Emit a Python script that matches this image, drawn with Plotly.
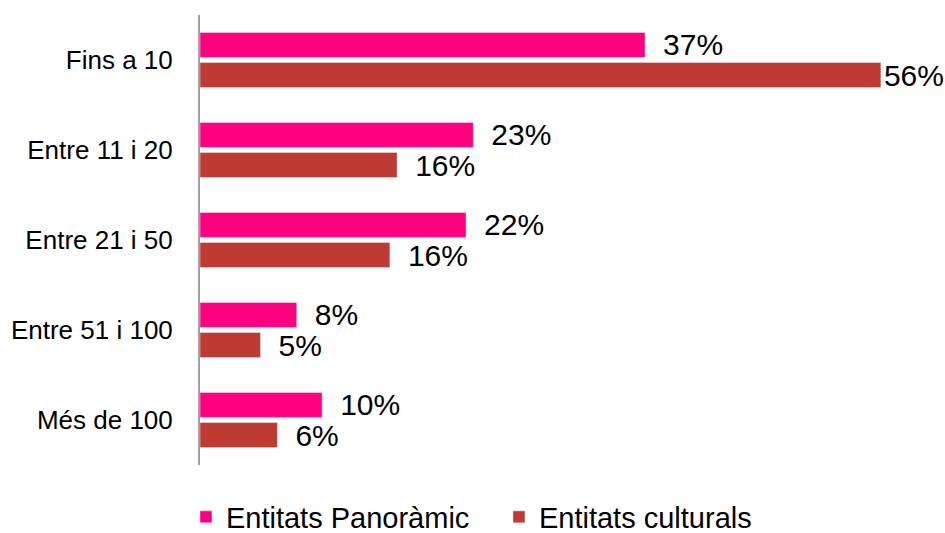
import plotly.graph_objects as go

categories = ['Fins a 10', 'Entre 11 i 20', 'Entre 21 i 50', 'Entre 51 i 100', 'Més de 100']
panoramic = [36.8, 22.6, 22.0, 8.0, 10.1]
culturals = [56.3, 16.3, 15.7, 5.0, 6.4]

def labels(vals, top):
    # label at the far end sits right on the bar, others get a gap
    return [('' if v == top else '\u2002') + f'{v:.0f}%' for v in vals]

top_val = max(panoramic + culturals)

fig = go.Figure()
fig.add_trace(go.Bar(y=categories, x=panoramic, orientation='h', name='Entitats Panoràmic',
                     marker=dict(color='#FF0080'),
                     text=labels(panoramic, top_val), textposition='outside', cliponaxis=False))
fig.add_trace(go.Bar(y=categories, x=culturals, orientation='h', name='Entitats culturals',
                     marker=dict(color='#BF3A33'),
                     text=labels(culturals, top_val), textposition='outside', cliponaxis=False))

fig.update_traces(textfont=dict(size=30, color='black'), constraintext='none')

fig.update_layout(
    width=945, height=533,
    margin=dict(l=200, r=0, t=15, b=68, autoexpand=False),
    barmode='group', bargap=0.33, bargroupgap=0.17,
    plot_bgcolor='white', paper_bgcolor='white',
    font=dict(family='Liberation Sans, Arial', color='black'),
    showlegend=True,
    legend=dict(orientation='h', xref='container', x=0.528, xanchor='center',
                yref='container', y=0.03, yanchor='middle', font=dict(size=29),
                entrywidth=268),
)
fig.update_xaxes(range=[0, 61.6], visible=False)
fig.update_yaxes(autorange='reversed', showline=True, linecolor='#A0A0A0', linewidth=2,
                 showgrid=False, ticks='', tickfont=dict(size=26), ticklabelstandoff=20,
                 automargin=False)

# page body has a default margin that pushes the chart off the window
fig.write_html("out.html", config={'displayModeBar': False},
               post_script="document.body.style.margin='0';")
